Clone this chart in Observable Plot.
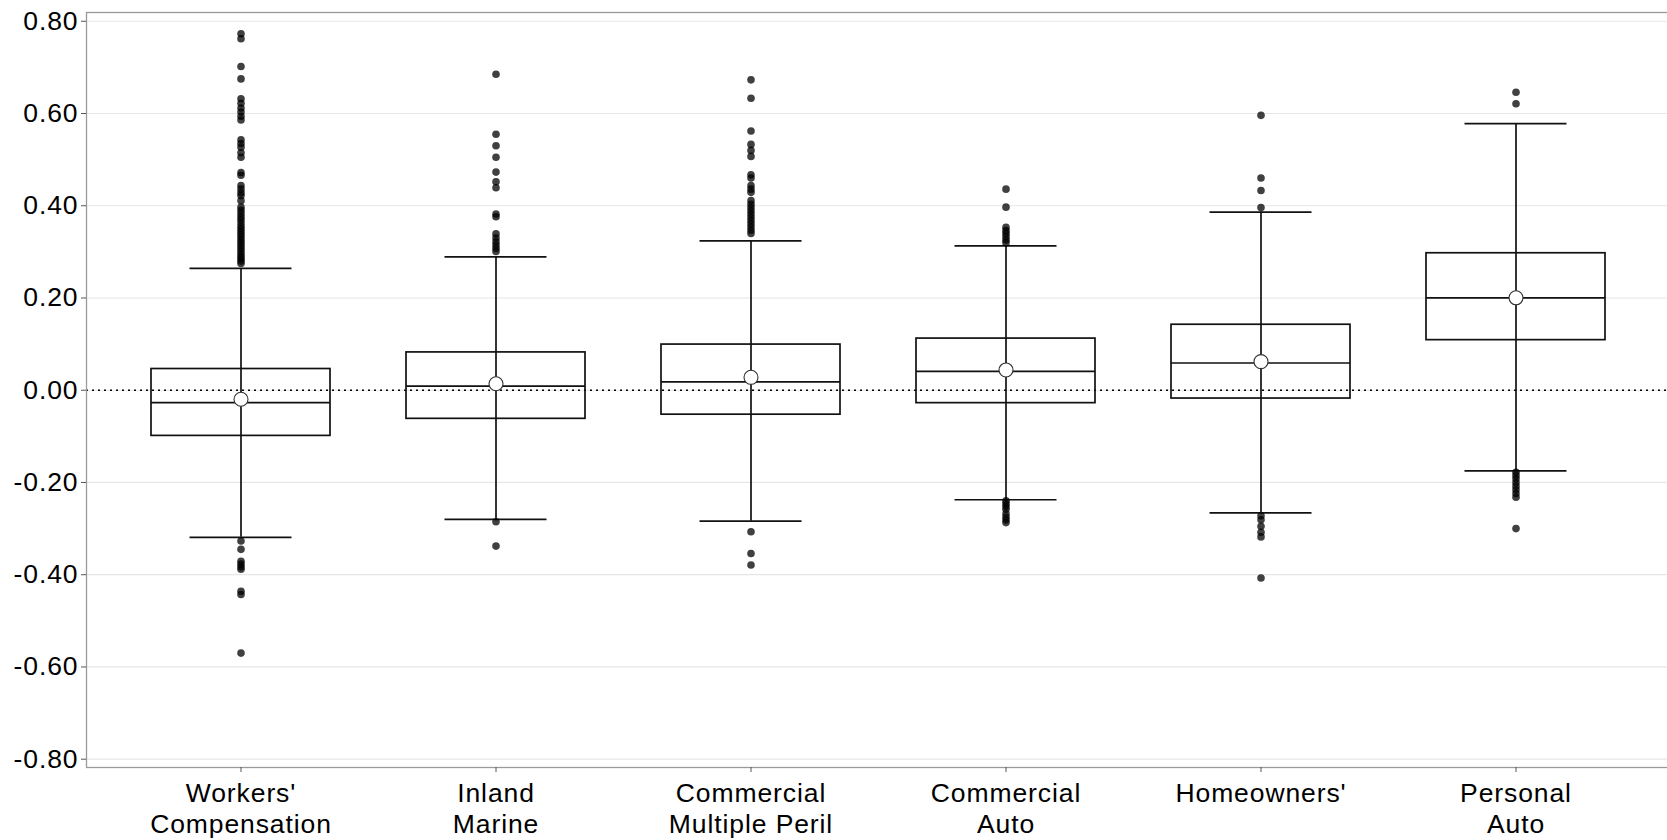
<!DOCTYPE html>
<html>
<head>
<meta charset="utf-8">
<script src="https://cdn.jsdelivr.net/npm/d3@7"></script>
<script src="https://cdn.jsdelivr.net/npm/@observablehq/plot@0.6"></script>
<style>
  html, body { margin: 0; padding: 0; background: #fff; }
  #chart svg text { letter-spacing: 0.9px; }
</style>
</head>
<body>
<div id="chart"></div>
<script>
const categories = ["Workers' Compensation", "Inland Marine", "Commercial Multiple Peril", "Commercial Auto", "Homeowners'", "Personal Auto"];
const tickLabels = ["Workers'\nCompensation", "Inland\nMarine", "Commercial\nMultiple Peril", "Commercial\nAuto", "Homeowners'", "Personal\nAuto"];

const q1Values     = [-0.099, -0.062, -0.053, -0.028, -0.018, 0.1086];
const medianValues = [-0.027,  0.009,  0.018,  0.041,  0.059, 0.2004];
const q3Values     = [ 0.046,  0.082,  0.099,  0.112,  0.142, 0.297];
const meanValues   = [-0.0196, 0.014,  0.028,  0.044,  0.062, 0.2004];
const whiskerLow   = [-0.319, -0.280, -0.284, -0.2375, -0.266, -0.175];
const whiskerHigh  = [ 0.264,  0.289,  0.324,  0.313,  0.386, 0.578];

const outliersWorkers = [0.773, 0.762, 0.702, 0.675, 0.632, 0.622, 0.612, 0.603, 0.594, 0.586, 0.543, 0.535, 0.527, 0.515, 0.505, 0.472, 0.466, 0.444, 0.436, 0.428, 0.422, 0.411, 0.397, 0.390, 0.383, 0.376, 0.370, 0.363, 0.356, 0.350, 0.344, 0.338, 0.332, 0.326, 0.320, 0.314, 0.308, 0.302, 0.296, 0.290, 0.285, 0.280, 0.275,
  -0.327, -0.345, -0.371, -0.377, -0.383, -0.388, -0.436, -0.443, -0.570];
const outliersInland = [0.685, 0.555, 0.530, 0.505, 0.473, 0.452, 0.439, 0.382, 0.376, 0.339, 0.330, 0.322, 0.315, 0.308, 0.301, -0.285, -0.338];
const outliersCMP = [0.673, 0.633, 0.562, 0.533, 0.520, 0.507, 0.467, 0.460, 0.444, 0.436, 0.429, 0.411, 0.403, 0.396, 0.389, 0.382, 0.375, 0.368, 0.361, 0.354, 0.347, 0.340, -0.307, -0.354, -0.379];
const outliersCommAuto = [0.436, 0.397, 0.353, 0.346, 0.340, 0.333, 0.326, 0.320, -0.240, -0.246, -0.252, -0.258, -0.268, -0.275, -0.281, -0.287];
const outliersHome = [0.596, 0.460, 0.433, 0.396, -0.272, -0.281, -0.295, -0.308, -0.318, -0.407];
const outliersPersAuto = [0.646, 0.621, -0.178, -0.185, -0.192, -0.200, -0.208, -0.216, -0.224, -0.232, -0.300];
const outlierLists = [outliersWorkers, outliersInland, outliersCMP, outliersCommAuto, outliersHome, outliersPersAuto];

const yTicks = [-0.8, -0.6, -0.4, -0.2, 0, 0.2, 0.4, 0.6, 0.8];

const stats = categories.map((c, i) => ({
  cat: c, q1: q1Values[i], median: medianValues[i], q3: q3Values[i],
  mean: meanValues[i], lo: whiskerLow[i], hi: whiskerHigh[i]
}));
const outlierRows = categories.flatMap((c, i) => outlierLists[i].map(v => ({cat: c, v})));
const labelOf = d => tickLabels[categories.indexOf(d)];
const fmt = d => (Math.abs(d) < 1e-9 ? 0 : d).toFixed(2);

const ink = "#111";

const chart = Plot.plot({
  width: 1667,
  height: 840,
  marginLeft: 86,
  marginTop: 12,
  marginRight: -2,
  marginBottom: 73,
  style: {fontFamily: "'Liberation Sans', Arial, sans-serif", fontSize: "26.5px", color: "#000", background: "#fff"},
  x: {type: "band", domain: categories, paddingInner: 0.3, paddingOuter: 0.25, label: null},
  y: {domain: [-0.818, 0.819], label: null},
  marks: [
    Plot.gridY(yTicks, {stroke: "#e6e6e6", strokeOpacity: 1, strokeWidth: 1.2}),
    Plot.ruleY([0], {stroke: "#000", strokeDasharray: "2,4", strokeWidth: 1.3}),
    Plot.frame({stroke: "#9a9a9a", strokeWidth: 1.3}),
    Plot.ruleX(stats, {x: "cat", y1: "lo", y2: "hi", stroke: ink, strokeWidth: 1.7}),
    Plot.tickY(stats, {x: "cat", y: "lo", stroke: ink, strokeWidth: 1.7, inset: 38.5}),
    Plot.tickY(stats, {x: "cat", y: "hi", stroke: ink, strokeWidth: 1.7, inset: 38.5}),
    Plot.barY(stats, {x: "cat", y1: "q1", y2: "q3", fill: "none", stroke: ink, strokeWidth: 1.7, inset: 0}),
    Plot.tickY(stats, {x: "cat", y: "median", stroke: ink, strokeWidth: 1.7}),
    Plot.dot(outlierRows, {x: "cat", y: "v", r: 3.8, fill: "#000", fillOpacity: 0.75, stroke: null}),
    Plot.dot(stats, {x: "cat", y: "mean", r: 7, fill: "#fff", stroke: "#333", strokeWidth: 1.1}),
    Plot.axisY(yTicks, {tickFormat: fmt, tickSize: 5, tickPadding: 3, stroke: "#555", fill: "#000"}),
    Plot.axisX({tickFormat: labelOf, tickSize: 5, tickPadding: 7, lineHeight: 1.17, stroke: "#555", fill: "#000"})
  ]
});
document.getElementById("chart").appendChild(chart);
</script>
</body>
</html>
